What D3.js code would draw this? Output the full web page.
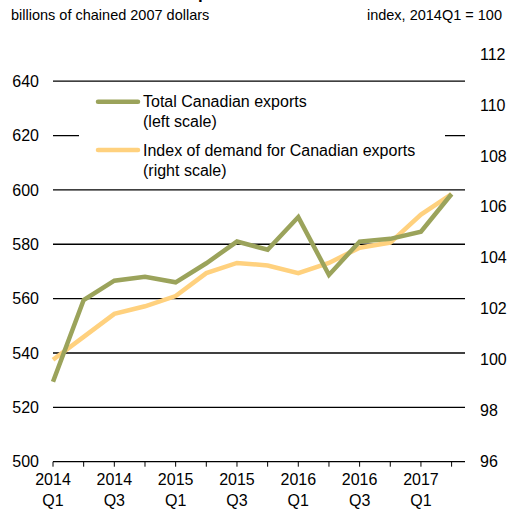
<!DOCTYPE html>
<html>
<head>
<meta charset="utf-8">
<script src="https://cdn.jsdelivr.net/npm/d3@7"></script>
<style>
  body { margin: 0; background: #fff; }
  text { font-family: "Liberation Sans", Arial, sans-serif; fill: #000; }
</style>
</head>
<body>
<div id="chart"></div>
<script>
// quarters 2014Q1 .. 2017Q2
const quarters = ["2014Q1", "2014Q2", "2014Q3", "2014Q4", "2015Q1", "2015Q2", "2015Q3",
  "2015Q4", "2016Q1", "2016Q2", "2016Q3", "2016Q4", "2017Q1", "2017Q2"];
const exportsTotal = [529.4, 559.5, 566.6, 568, 566, 573, 581, 578, 590, 568.7, 581, 582, 584.6, 598.5];
const demandIndex = [100.0, 100.9, 101.8, 102.1, 102.5, 103.4, 103.8, 103.7, 103.4, 103.8, 104.4, 104.6, 105.7, 106.5];
const leftTicks = [500, 520, 540, 560, 580, 600, 620, 640];
const rightTicks = [96, 98, 100, 102, 104, 106, 108, 110, 112];
const xLabels = [[0, "2014", "Q1"], [2, "2014", "Q3"], [4, "2015", "Q1"], [6, "2015", "Q3"],
  [8, "2016", "Q1"], [10, "2016", "Q3"], [12, "2017", "Q1"]];

const width = 513;
const height = 510;
const plotLeft = 53, plotRight = 465, plotTop = 54, plotBottom = 461.7;

const svg = d3.select("#chart").append("svg")
  .attr("width", width)
  .attr("height", height);

const x = d3.scaleLinear().domain([0, 13]).range([plotLeft, 451.6]);
const yL = d3.scaleLinear().domain([500, 650]).range([plotBottom, plotTop]);
const yR = d3.scaleLinear().domain([96, 112]).range([plotBottom, plotTop]);

// clipped title (only a descender shows at the top)
svg.append("text")
  .attr("x", 96).attr("y", -1)
  .style("font-size", "17px").style("font-weight", "bold")
  .text("Canadian Exports");

svg.append("text")
  .attr("x", 11).attr("y", 20)
  .style("font-size", "14.5px")
  .text("billions of chained 2007 dollars");

svg.append("text")
  .attr("x", 502).attr("y", 20)
  .attr("text-anchor", "end")
  .style("font-size", "14.5px")
  .text("index, 2014Q1 = 100");

// gridlines
svg.append("g")
  .selectAll("line")
  .data(leftTicks.slice(1))
  .join("line")
  .attr("x1", plotLeft).attr("x2", plotRight)
  .attr("y1", (d) => yL(d)).attr("y2", (d) => yL(d))
  .attr("stroke", "#000").attr("stroke-width", 1.3);

// left axis labels
svg.append("g")
  .selectAll("text")
  .data(leftTicks)
  .join("text")
  .attr("x", 39).attr("y", (d) => yL(d))
  .attr("dy", "0.35em")
  .attr("text-anchor", "end")
  .style("font-size", "16px")
  .text((d) => d);

// right axis labels
svg.append("g")
  .selectAll("text")
  .data(rightTicks)
  .join("text")
  .attr("x", 480).attr("y", (d) => yR(d))
  .attr("dy", "0.35em")
  .style("font-size", "16px")
  .text((d) => d);

// x axis
svg.append("line")
  .attr("x1", plotLeft).attr("x2", plotRight)
  .attr("y1", plotBottom).attr("y2", plotBottom)
  .attr("stroke", "#000").attr("stroke-width", 1.3);

svg.append("g")
  .selectAll("line")
  .data(d3.range(quarters.length))
  .join("line")
  .attr("x1", (d) => x(d)).attr("x2", (d) => x(d))
  .attr("y1", plotBottom).attr("y2", plotBottom + 5)
  .attr("stroke", "#000").attr("stroke-width", 1);

const xl = svg.append("g")
  .selectAll("g")
  .data(xLabels)
  .join("g")
  .attr("transform", (d) => `translate(${x(d[0])},0)`);
xl.append("text").attr("y", 485).attr("text-anchor", "middle")
  .style("font-size", "16px").text((d) => d[1]);
xl.append("text").attr("y", 506).attr("text-anchor", "middle")
  .style("font-size", "16px").text((d) => d[2]);

// lines
const lineL = d3.line().x((d, i) => x(i)).y((d) => yL(d));
const lineR = d3.line().x((d, i) => x(i)).y((d) => yR(d));

svg.append("path")
  .datum(demandIndex)
  .attr("d", lineR)
  .attr("fill", "none")
  .attr("stroke", "#FFD17E")
  .attr("stroke-width", 4.5);

svg.append("path")
  .datum(exportsTotal)
  .attr("d", lineL)
  .attr("fill", "none")
  .attr("stroke", "#9BA35B")
  .attr("stroke-width", 4.5);

// legend
const legend = svg.append("g");
legend.append("rect")
  .attr("x", 79).attr("y", 88).attr("width", 366).attr("height", 96)
  .attr("fill", "#fff");

const legendItems = [
  { color: "#9BA35B", lines: ["Total Canadian exports", "(left scale)"], y: 101.7 },
  { color: "#FFD17E", lines: ["Index of demand for Canadian exports", "(right scale)"], y: 150 }
];
legendItems.forEach((item) => {
  legend.append("line")
    .attr("x1", 98).attr("x2", 138)
    .attr("y1", item.y).attr("y2", item.y)
    .attr("stroke", item.color).attr("stroke-width", 4.5)
    .attr("stroke-linecap", "round");
  item.lines.forEach((t, i) => {
    legend.append("text")
      .attr("x", 143).attr("y", item.y + i * 20)
      .attr("dy", "0.35em")
      .style("font-size", "16px")
      .text(t);
  });
});
</script>
</body>
</html>
